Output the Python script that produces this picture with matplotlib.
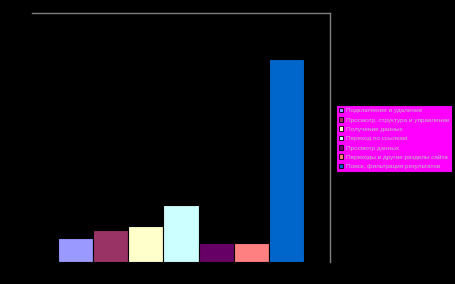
import matplotlib
matplotlib.use("Agg")
import matplotlib.pyplot as plt
from matplotlib.patches import Patch

categories = [
    "Подключение и удаление",
    "Просмотр, структура и управление",
    "Получение данных",
    "Переход по ссылкам",
    "Просмотр данных",
    "Переходы в другие разделы сайта",
    "Поиск, фильтрация результатов",
]
values = [2.4, 3.2, 3.6, 5.7, 1.9, 1.9, 20.3]
colors = ["#9999FF", "#993366", "#FFFFCC", "#CCFFFF", "#660066", "#FF8080", "#0066CC"]

plt.rcParams['font.family'] = ['Liberation Sans', 'DejaVu Sans']
fig = plt.figure(figsize=(4.56, 2.84), dpi=100, facecolor="black")
ax = fig.add_axes([32/456, 1-262/284, 298/456, 249/284])
ax.set_facecolor("black")

x = list(range(len(values)))
ax.bar(x, values, width=1.0, color=colors, edgecolor="black", linewidth=0.8)
ax.set_xlim(-1.245, 7.245)
ax.set_ylim(0, 24.9)
ax.set_xticks([])
ax.set_yticks([])
for s in ["left", "bottom"]:
    ax.spines[s].set_visible(False)
for s in ["top", "right"]:
    ax.spines[s].set_color("#808080")
    ax.spines[s].set_linewidth(1.0)

handles = [Patch(facecolor=c, edgecolor="black", linewidth=0.6) for c in colors]
leg = fig.legend(handles, categories, loc="upper left",
                 bbox_to_anchor=(336/456, 1-105/284), bbox_transform=fig.transFigure,
                 fontsize=4.6, frameon=True, fancybox=False, facecolor="#FF00FF",
                 edgecolor="black", framealpha=1, labelcolor="#C0C0C0",
                 handlelength=0.7, handleheight=0.7, handletextpad=0.4,
                 labelspacing=0.6, borderpad=0.45, borderaxespad=0)
leg.get_frame().set_linewidth(0.8)

fig.savefig("out.png", dpi=100, facecolor="black")
